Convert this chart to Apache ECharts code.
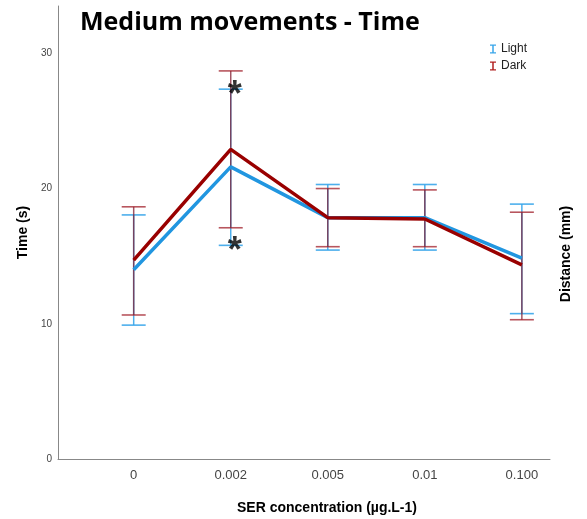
<!DOCTYPE html>
<html>
<head>
<meta charset="utf-8">
<script src="https://cdn.jsdelivr.net/npm/echarts@6/dist/echarts.min.js"></script>
<style>
html,body{margin:0;padding:0;background:#fff;}
#main{width:587px;height:519px;}
</style>
</head>
<body>
<div id="main"></div>
<script>
const categories = ['0', '0.002', '0.005', '0.01', '0.100'];
const yTicks = [0, 10, 20, 30];

const lightMean = [14.0, 21.6, 17.85, 17.85, 14.85];
const lightLow  = [9.9, 15.8, 15.45, 15.45, 10.75];
const lightHigh = [18.05, 27.35, 20.3, 20.3, 18.85];

const darkMean = [14.7, 22.9, 17.85, 17.75, 14.35];
const darkLow  = [10.65, 17.1, 15.7, 15.7, 10.3];
const darkHigh = [18.65, 28.7, 20.0, 19.9, 18.25];

// significance markers at 0.002 (index 1)
const sigIndex = [1, 1];
const sigValue = [lightHigh[1], lightLow[1]];

const chart = echarts.init(document.getElementById('main'));

function errData(low, high) {
  return categories.map((c, i) => [i, low[i], high[i]]);
}
function lineData(mean) {
  return categories.map((c, i) => [i, mean[i]]);
}
function errRender(capColor, vColor) {
  return function (params, api) {
    const x = api.value(0);
    const lo = api.coord([x, api.value(1)]);
    const hi = api.coord([x, api.value(2)]);
    const hw = 12;
    return {
      type: 'group',
      children: [
        {type: 'line', shape: {x1: hi[0], y1: hi[1], x2: lo[0], y2: lo[1]}, style: {stroke: vColor, lineWidth: 1.5}},
        {type: 'line', shape: {x1: hi[0] - hw, y1: hi[1], x2: hi[0] + hw, y2: hi[1]}, style: {stroke: capColor, lineWidth: 1.6}},
        {type: 'line', shape: {x1: lo[0] - hw, y1: lo[1], x2: lo[0] + hw, y2: lo[1]}, style: {stroke: capColor, lineWidth: 1.6}}
      ]
    };
  };
}

const iIcon = 'path://M0,0H8V1.8H5V10.2H8V12H0V10.2H3V1.8H0Z';

chart.setOption({
  animation: false,
  backgroundColor: '#ffffff',
  title: {
    text: 'Medium movements - Time',
    left: 80, top: 10, padding: 0,
    textStyle: {fontFamily: 'Open Sans', fontWeight: 'bold', fontSize: 25, color: '#000'}
  },
  legend: {
    orient: 'vertical',
    left: 490, top: 43, padding: 0,
    itemWidth: 6, itemHeight: 12, itemGap: 5,
    data: [
      {name: 'Light', icon: iIcon, itemStyle: {color: '#3aa6ea'}},
      {name: 'Dark', icon: iIcon, itemStyle: {color: '#b22222'}}
    ],
    textStyle: {fontFamily: 'Liberation Sans', fontSize: 12, color: '#222'},
    selectedMode: false
  },
  grid: {left: 58, right: 37, top: 6, bottom: 60, containLabel: false},
  xAxis: {
    type: 'value',
    min: -0.78, max: 4.29,
    axisLine: {show: true, onZero: false, lineStyle: {color: '#888', width: 1}},
    axisTick: {show: false},
    splitLine: {show: false},
    axisLabel: {
      customValues: [0, 1, 2, 3, 4],
      formatter: v => categories[Math.round(v)],
      margin: 10,
      fontFamily: 'Liberation Sans', fontSize: 13, color: '#444'
    }
  },
  yAxis: {
    type: 'value',
    min: 0, max: 33.5,
    name: 'Time (s)',
    nameLocation: 'middle',
    nameGap: 28,
    nameTextStyle: {fontFamily: 'Liberation Sans', fontWeight: 'bold', fontSize: 14, color: '#000'},
    axisLine: {show: true, onZero: false, lineStyle: {color: '#888', width: 1}},
    axisTick: {show: false},
    splitLine: {show: false},
    axisLabel: {
      customValues: yTicks,
      margin: 6,
      fontFamily: 'Liberation Sans', fontSize: 10, color: '#444'
    }
  },
  graphic: [
    {
      type: 'text',
      x: 327, y: 508,
      style: {text: 'SER concentration (µg.L-1)', fontFamily: 'Liberation Sans', fontWeight: 'bold', fontSize: 14, fill: '#000', align: 'center', verticalAlign: 'middle'}
    },
    {
      type: 'text',
      x: 566, y: 254,
      rotation: Math.PI / 2,
      style: {text: 'Distance (mm)', fontFamily: 'Liberation Sans', fontWeight: 'bold', fontSize: 14, fill: '#000', align: 'center', verticalAlign: 'middle'}
    }
  ],
  series: [
    {
      name: 'Light', type: 'custom',
      data: errData(lightLow, lightHigh),
      renderItem: errRender('rgba(58,166,234,0.9)', 'rgba(58,166,234,0.9)'),
      encode: {x: 0, y: [1, 2]}, z: 2
    },
    {
      name: 'Dark', type: 'custom',
      data: errData(darkLow, darkHigh),
      renderItem: errRender('rgba(160,30,40,0.75)', 'rgba(130,30,50,0.75)'),
      encode: {x: 0, y: [1, 2]}, z: 3
    },
    {
      name: 'Light', type: 'line',
      data: lineData(lightMean),
      symbol: 'none',
      lineStyle: {color: '#2196e0', width: 3.5},
      itemStyle: {color: '#3aa6ea'},
      z: 4
    },
    {
      name: 'Dark', type: 'line',
      data: lineData(darkMean),
      symbol: 'none',
      lineStyle: {color: '#990000', width: 3.5},
      itemStyle: {color: '#b22222'},
      z: 5
    },
    {
      name: 'sig', type: 'scatter',
      data: sigIndex.map((x, i) => [x, sigValue[i]]),
      symbolSize: 0,
      label: {
        show: true, formatter: '*', position: 'inside', offset: [4, 7],
        fontFamily: 'Liberation Sans', fontWeight: 'bold', fontSize: 36, color: '#000'
      },
      z: 6
    }
  ]
});
</script>
</body>
</html>
